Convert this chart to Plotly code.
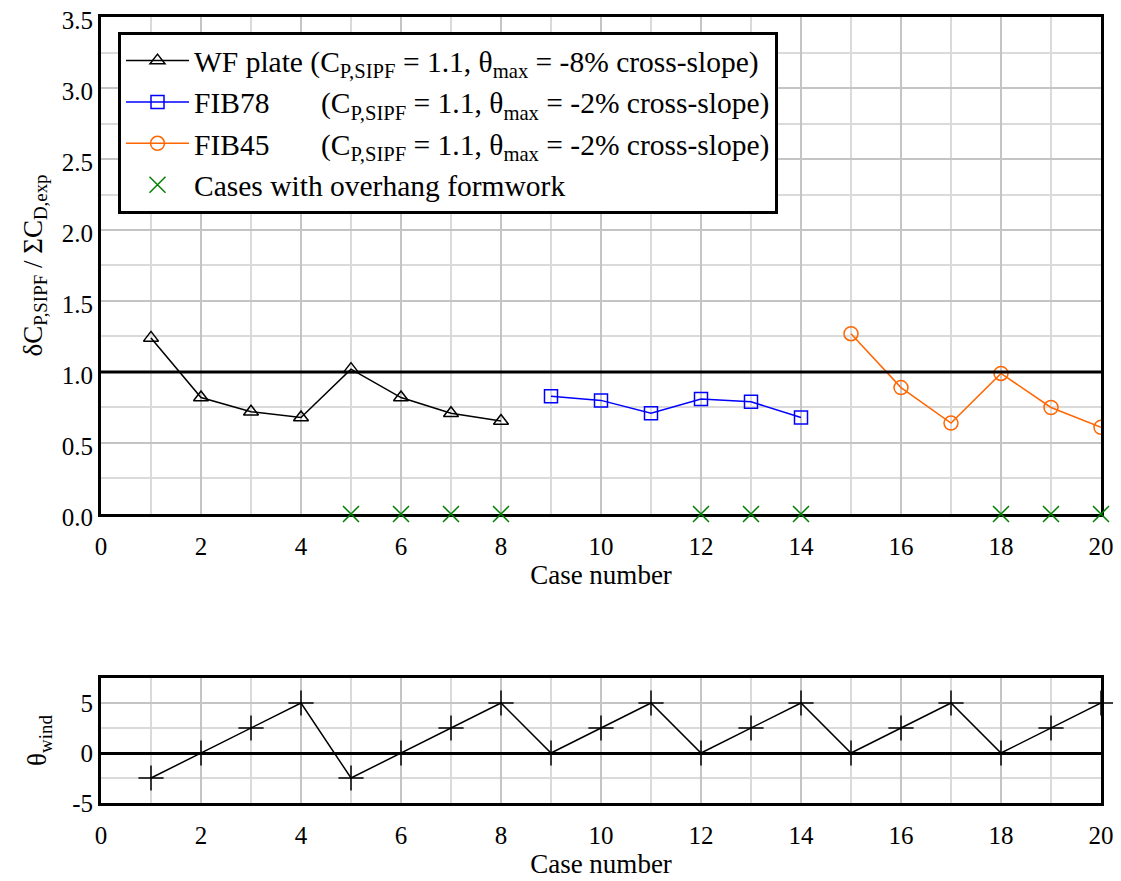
import plotly.graph_objects as go
from plotly.subplots import make_subplots

# Data
wf_case = [1, 2, 3, 4, 5, 6, 7, 8]
wf_ratio = [1.24, 0.82, 0.72, 0.68, 1.02, 0.82, 0.71, 0.655]

fib78_case = [9, 10, 11, 12, 13, 14]
fib78_ratio = [0.83, 0.80, 0.71, 0.81, 0.79, 0.68]

fib45_case = [15, 16, 17, 18, 19, 20]
fib45_ratio = [1.27, 0.89, 0.64, 0.99, 0.75, 0.61]

overhang_case = [5, 6, 7, 8, 12, 13, 14, 18, 19, 20]
overhang_val = [0, 0, 0, 0, 0, 0, 0, 0, 0, 0]

wind_case = list(range(1, 21))
wind_angle = [-2.5, 0, 2.5, 5, -2.5, 0, 2.5, 5, 0, 2.5, 5, 0, 2.5, 5, 0, 2.5, 5, 0, 2.5, 5]

wind_ticks = [-5, 0, 5]
wind_ticklabels = ["-5", "0", "5"]

ref_level = 1.0

FONT = "Liberation Serif"
NB = "\u00a0"

fig = make_subplots(rows=2, cols=1, vertical_spacing=0.05)

fig.add_trace(go.Scatter(
    x=wf_case, y=wf_ratio, mode="lines+markers",
    name="WF plate (C<sub>P,SIPF</sub> = 1.1, θ<sub>max</sub> = -8% cross-slope)",
    line=dict(color="black", width=1.5),
    marker=dict(symbol="triangle-up-open", size=13, color="black", line=dict(width=1.5)),
), row=1, col=1)

fig.add_trace(go.Scatter(
    x=fib78_case, y=fib78_ratio, mode="lines+markers",
    name="FIB78" + NB * 7 + "(C<sub>P,SIPF</sub> = 1.1, θ<sub>max</sub> = -2% cross-slope)",
    line=dict(color="#0000ff", width=1.5),
    marker=dict(symbol="square-open", size=13, color="#0000ff", line=dict(width=1.5)),
), row=1, col=1)

fig.add_trace(go.Scatter(
    x=fib45_case, y=fib45_ratio, mode="lines+markers",
    name="FIB45" + NB * 7 + "(C<sub>P,SIPF</sub> = 1.1, θ<sub>max</sub> = -2% cross-slope)",
    line=dict(color="#ff6600", width=1.5),
    marker=dict(symbol="circle-open", size=14, color="#ff6600", line=dict(width=1.5)),
), row=1, col=1)

fig.add_trace(go.Scatter(
    x=overhang_case, y=overhang_val, mode="markers",
    name="Cases with overhang formwork",
    marker=dict(symbol="x-thin-open", size=16, color="#008000", line=dict(width=1.5, color="#008000")),
    cliponaxis=False,
), row=1, col=1)

fig.add_trace(go.Scatter(
    x=wind_case, y=wind_angle, mode="lines+markers", showlegend=False,
    line=dict(color="black", width=1.5),
    marker=dict(symbol="cross-thin-open", size=18, color="black", line=dict(width=1.5, color="black")),
    cliponaxis=False,
), row=2, col=1)

fig.add_hline(y=ref_level, line=dict(color="black", width=3), row=1, col=1)

axis_common = dict(
    showline=True, mirror=True, linecolor="black", linewidth=3,
    showgrid=True, gridcolor="#c4c4c4", gridwidth=2,
    ticks="", layer="below traces", automargin=False,
    ticklabeloverflow="allow",
    tickfont=dict(family=FONT, size=25, color="black"),
)
minor_grid = dict(showgrid=True, gridcolor="#dadada", gridwidth=1.5)
title_font = dict(family=FONT, size=27, color="black")

fig.update_xaxes(range=[0, 20], dtick=2, zeroline=False, ticklabelstandoff=8,
                 minor=dict(dtick=1, **minor_grid), **axis_common)
fig.update_xaxes(title=dict(text="Case number", font=title_font, standoff=0), row=1, col=1)
fig.update_xaxes(title=dict(text="Case number", font=title_font, standoff=0), row=2, col=1)

fig.update_yaxes(range=[0, 3.5], dtick=0.5, tickformat=".1f", zeroline=False,
                 ticklabelshift=3,
                 minor=dict(dtick=0.25, **minor_grid),
                 title=dict(text="δC<sub>P,SIPF</sub> / ΣC<sub>D,exp</sub>", font=title_font, standoff=12),
                 row=1, col=1, **axis_common)
fig.update_yaxes(range=[-5, 7.5], tickvals=wind_ticks, ticktext=wind_ticklabels,
                 minor=dict(tickvals=[-2.5, 2.5], **minor_grid),
                 zeroline=True, zerolinecolor="black", zerolinewidth=3,
                 title=dict(text="θ<sub>wind</sub>", font=title_font, standoff=18),
                 row=2, col=1, **axis_common)

# page body has an 8px margin, so shift the plot area back by 8px
fig.update_layout(
    width=1121, height=881,
    margin=dict(l=93, r=28, t=9, b=86),
    paper_bgcolor="white", plot_bgcolor="white",
    font=dict(family=FONT, size=25, color="black"),
    xaxis=dict(domain=[0, 1]),
    yaxis=dict(domain=[0.3677, 1]),
    yaxis2=dict(domain=[0, 0.159]),
    legend=dict(
        x=0.017, y=0.981, xanchor="left", yanchor="top",
        bgcolor="white", bordercolor="black", borderwidth=3,
        font=dict(family=FONT, size=29.5, color="black"),
        itemwidth=63, tracegroupgap=0,
    ),
    showlegend=True,
)

fig.write_html("out.html")
